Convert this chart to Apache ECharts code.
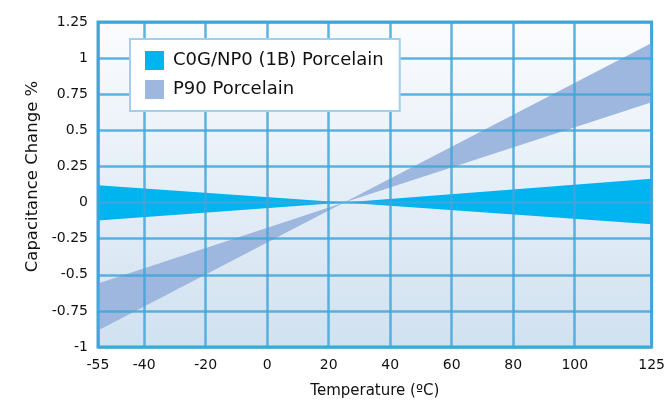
<!DOCTYPE html>
<html><head><meta charset="utf-8">
<script src="https://cdn.jsdelivr.net/npm/echarts@6/dist/echarts.min.js"></script>
<style>html,body{margin:0;padding:0;background:#fff}#c{width:668px;height:404px}</style>
</head><body><div id="c"></div>
<script>
const temps = [-55, 25, 125];
const c0gUpper = [0.12, 0, 0.165];
const c0gLower = [-0.125, 0, -0.15];
const p90Upper = [-0.56, 0, 1.105];
const p90Lower = [-0.885, 0, 0.695];
const xTicks = [-55, -40, -20, 0, 20, 40, 60, 80, 100, 125];

function makeBand(name, up, lo, color) {
  return {
    name, type: 'custom', data: temps.map((t, i) => [t, up[i], lo[i]]),
    itemStyle: { color },
    encode: { x: 0, y: [1, 2] },
    renderItem: function (params, api) {
      if (params.dataIndex !== 0) return;
      const pts = [];
      for (let i = 0; i < temps.length; i++) pts.push(api.coord([temps[i], up[i]]));
      for (let i = temps.length - 1; i >= 0; i--) pts.push(api.coord([temps[i], lo[i]]));
      return { type: 'polygon', shape: { points: pts }, style: { fill: api.visual('color') } };
    },
    z: 2
  };
}
const font = 'DejaVu Sans';
const chart = echarts.init(document.getElementById('c'));
chart.setOption({
  animation: false,
  textStyle: { fontFamily: font },
  grid: {
    left: 98, right: 16, top: 22, bottom: 53, show: true,
    backgroundColor: new echarts.graphic.LinearGradient(0, 0, 0, 1, [
      { offset: 0, color: '#fbfcfe' }, { offset: 1, color: '#d0e1f0' }]),
    borderColor: '#41a6d9', borderWidth: 3
  },
  legend: {
    orient: 'vertical', left: 130, top: 39, itemWidth: 19, itemHeight: 19, itemGap: 10,
    icon: 'rect', backgroundColor: '#ffffff', borderColor: '#9fd0ec', borderWidth: 2,
    padding: [12, 16, 12, 15], borderRadius: 0,
    textStyle: { fontFamily: font, fontSize: 18, color: '#111', padding: [0, 0, 0, 4] },
    data: ['C0G/NP0 (1B) Porcelain', 'P90 Porcelain']
  },
  xAxis: {
    type: 'value', min: -55, max: 125, z: 3,
    name: 'Temperature (ºC)', nameLocation: 'middle', nameGap: 37,
    nameTextStyle: { fontFamily: font, fontSize: 15, color: '#111' },
    axisLine: { show: false }, axisTick: { show: false, customValues: xTicks },
    axisLabel: { customValues: xTicks, fontFamily: font, fontSize: 14, color: '#111', margin: 11 },
    splitLine: { show: true, lineStyle: { color: '#41a6d9', width: 2.5, opacity: 0.85 } }
  },
  yAxis: {
    type: 'value', min: -1, max: 1.25, interval: 0.25, z: 3,
    name: 'Capacitance Change %', nameLocation: 'middle', nameGap: 57,
    nameTextStyle: { fontFamily: font, fontSize: 16.5, color: '#111', padding: [0, 0, 0, 16] },
    axisLine: { show: false }, axisTick: { show: false },
    axisLabel: { fontFamily: font, fontSize: 14, color: '#111', margin: 10,
      formatter: v => String(+v.toFixed(2)) },
    splitLine: { show: true, lineStyle: { color: '#41a6d9', width: 2.5, opacity: 0.85 } }
  },
  series: [
    makeBand('C0G/NP0 (1B) Porcelain', c0gUpper, c0gLower, '#00b4ef'),
    makeBand('P90 Porcelain', p90Upper, p90Lower, '#9db7df')
  ]
});
</script></body></html>
